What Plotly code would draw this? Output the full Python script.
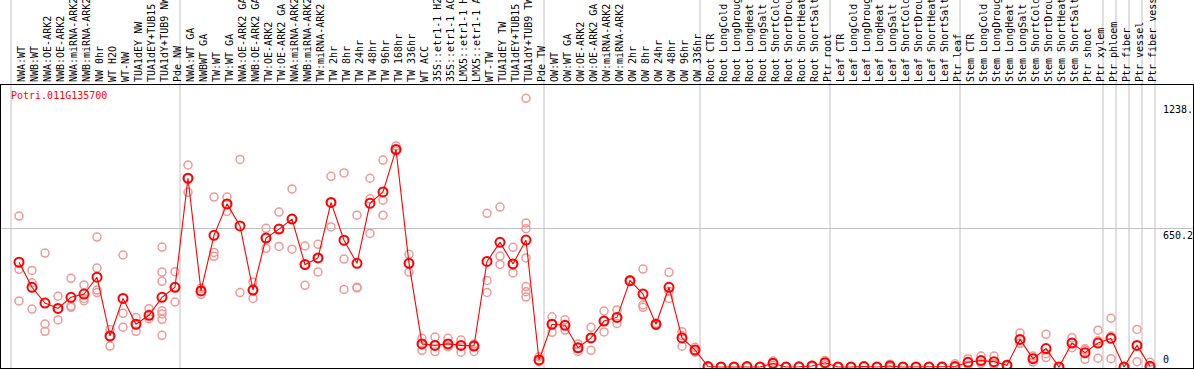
import plotly.graph_objects as go

gene = "Potri.011G135700"

categories = [
    "NWA:WT", "NWB:WT", "NWA:OE-ARK2", "NWB:OE-ARK2", "NWA:miRNA-ARK2", "NWB:miRNA-ARK2",
    "NW 0hr", "WT H2O", "WT-NW", "TUA1dEY NW", "TUA1dEY+TUB15 NW", "TUA1dY+TUB9 NW", "Pde NW",
    "NWA:WT GA", "NWBWT GA", "TW:WT", "TW:WT GA", "NWA:OE-ARK2 GA", "NWB:OE-ARK2 GA",
    "TW:OE-ARK2", "TW:OE-ARK2 GA", "NWA:miRNA-ARK2", "NWB:miRNA-ARK2", "TW:miRNA-ARK2",
    "TW 2hr", "TW 8hr", "TW 24hr", "TW 48hr", "TW 96hr", "TW 168hr", "TW 336hr", "WT ACC",
    "35S::etr1-1 H2O", "35S::etr1-1 ACC", "LMX5::etr1-1 H2O", "LMX5::etr1-1 ACC", "WT-TW",
    "TUA1dEY TW", "TUA1dEY+TUB15 TW", "TUA1dY+TUB9 TW", "Pde TW",
    "OW:WT", "OW:WT GA", "OW:OE-ARK2", "OW:OE-ARK2 GA", "OW:miRNA-ARK2", "OW:miRNA-ARK2",
    "OW 2hr", "OW 8hr", "OW 24hr", "OW 48hr", "OW 96hr", "OW 336hr",
    "Root CTR", "Root LongCold", "Root LongDrought", "Root LongHeat", "Root LongSalt",
    "Root ShortCold", "Root ShortDrought", "Root ShortHeat", "Root ShortSalt", "Ptr root",
    "Leaf CTR", "Leaf LongCold", "Leaf LongDrought", "Leaf LongHeat", "Leaf LongSalt",
    "Leaf ShortCold", "Leaf ShortDrought", "Leaf ShortHeat", "Leaf ShortSalt", "Ptr leaf",
    "Stem CTR", "Stem LongCold", "Stem LongDrought", "Stem LongHeat", "Stem LongSalt",
    "Stem ShortCold", "Stem ShortDrought", "Stem ShortHeat", "Stem ShortSalt", "Ptr shoot",
    "Ptr xylem", "Ptr phloem", "Ptr fiber", "Ptr vessel", "Ptr fiber vessel",
]

means = [
    490, 373, 299, 274, 326, 341, 420, 145, 321, 200, 242, 326, 373,
    883, 356, 616, 763, 660, 360, 603, 645, 692, 479, 510, 770, 593, 485, 766, 819, 1018,
    485, 108, 101, 108, 101, 98, 494, 583, 482, 594, 33,
    200, 195, 90, 136, 215, 232, 404, 341, 200, 373, 136, 80,
    2, 0, 0, 2, 0, 17, 0, 1, 5, 20,
    0, 0, 2, 0, 5, 0, 0, 0, 0, 2,
    22, 30, 25, 8, 129, 39, 86, 0, 112, 67, 112,
    134, 0, 101, 3,
]

replicates = [
    [706, 457, 309], [452, 394, 271], [533, 201, 167], [331, 274, 220], [415, 285, 279],
    [384, 321, 310], [608, 463, 360, 348], [176, 145, 98], [524, 251, 186], [232, 200, 167],
    [273, 242, 226], [561, 444, 401, 263, 248, 223, 148], [446, 373, 304],
    [945, 883, 817], [368, 356, 340], [795, 536, 518], [795, 763, 728], [971, 348],
    [398, 360, 321], [649, 603, 555], [725, 645, 564], [833, 692, 551], [566, 479, 382],
    [574, 510, 444], [892, 770, 655], [908, 505, 363], [710, 373, 370], [883, 787, 625],
    [968, 780, 710], [1034, 1018, 1010], [527, 485, 444], [134, 108, 78], [140, 101, 72],
    [134, 108, 95], [126, 101, 69], [108, 98, 73], [719, 405, 349], [748, 519, 480],
    [560, 482, 440], [1257, 674, 647, 510, 376, 352, 327], [48, 33, 25],
    [235, 200, 162], [221, 195, 173], [108, 90, 73], [186, 136, 78], [262, 215, 164],
    [267, 232, 204], [408, 404, 400], [458, 290, 279], [205, 200, 195], [443, 354, 321],
    [165, 146, 97], [92, 80, 70],
    [5, 2, 0], [1, 0, 0], [1, 0, 0], [4, 2, 0], [1, 0, 0], [28, 17, 8], [1, 0, 0],
    [2, 1, 0], [8, 5, 2], [30, 20, 10],
    [0, 0, 0], [1, 0, 0], [3, 2, 1], [0, 0, 0], [13, 2, 0], [0, 0, 0], [0, 0, 0],
    [1, 0, 0], [3, 0, 0], [15, 2, 0],
    [39, 22, 8], [51, 30, 17], [51, 15, 9], [12, 8, 5], [159, 129, 111], [51, 42, 23],
    [153, 62, 44], [0, 0, 0], [137, 112, 90], [85, 80, 36], [172, 123, 41],
    [228, 145, 39], [0, 0, 0], [176, 101, 25], [22, 0, 0],
]

# index of the last sample in each group (0 = left edge)
group_ends = [0, 13, 41, 53, 63, 73, 84, 85, 86, 87, 88]

y_marks = [1238.0, 650.2, 0]
y_mark_text = ["1238.", "650.2", "0"]

MONO = "DejaVu Sans Mono"
GRID = "#c0c0c0"

xs = list(range(1, len(categories) + 1))
rep_x = [xs[i] for i, reps in enumerate(replicates) for _ in reps]
rep_y = [v for reps in replicates for v in reps]

fig = go.Figure()

for k in group_ends:
    fig.add_shape(type="line", xref="x", yref="paper", x0=k + 5 / 13, x1=k + 5 / 13,
                  y0=0, y1=1.32, line=dict(color=GRID, width=1), layer="below")

fig.add_trace(go.Scatter(
    x=rep_x, y=rep_y, mode="markers", hoverinfo="skip",
    marker=dict(symbol="circle-open", size=8, color="#f09898", line=dict(width=1.5)),
))
fig.add_trace(go.Scatter(
    x=xs, y=means, mode="lines+markers",
    line=dict(color="#ff0000", width=1.1),
    marker=dict(symbol="circle-open", size=9, color="#ff0000", line=dict(width=2)),
))

fig.add_annotation(text=gene, xref="paper", yref="paper", x=8 / 1192, y=1,
                   xanchor="left", yanchor="top", yshift=-3, showarrow=False,
                   font=dict(family=MONO, size=10, color="#ff0000"))

for val, txt in zip(y_marks, y_mark_text):
    fig.add_annotation(text=txt, xref="paper", yref="y", x=1160 / 1192, y=val,
                       xanchor="left", yanchor="bottom" if val == 0 else "top",
                       showarrow=False, font=dict(family=MONO, size=10, color="black"))

fig.update_layout(
    width=1194, height=370,
    margin=dict(l=1, r=1, t=85, b=2),
    paper_bgcolor="white", plot_bgcolor="white",
    showlegend=False,
    xaxis=dict(
        range=[-5 / 13, 1187 / 13], side="top",
        tickmode="array", tickvals=xs, ticktext=categories, tickangle=-90,
        ticklabelshift=3,
        showgrid=False, zeroline=False, ticks="",
        showline=True, linecolor="black", linewidth=1, mirror=True,
        tickfont=dict(family=MONO, size=10, color="black"),
        automargin=False,
    ),
    yaxis=dict(
        range=[-4.68, 1319.2],
        tickmode="array", tickvals=[650.2], showticklabels=False,
        showgrid=True, gridcolor=GRID, gridwidth=1, zeroline=False, ticks="",
        showline=True, linecolor="black", linewidth=1, mirror=True,
        automargin=False,
    ),
)

fig.write_html(
    "out.html",
    config={"displayModeBar": False},
    post_script="document.body.style.margin='0';document.body.style.overflow='hidden';",
)
